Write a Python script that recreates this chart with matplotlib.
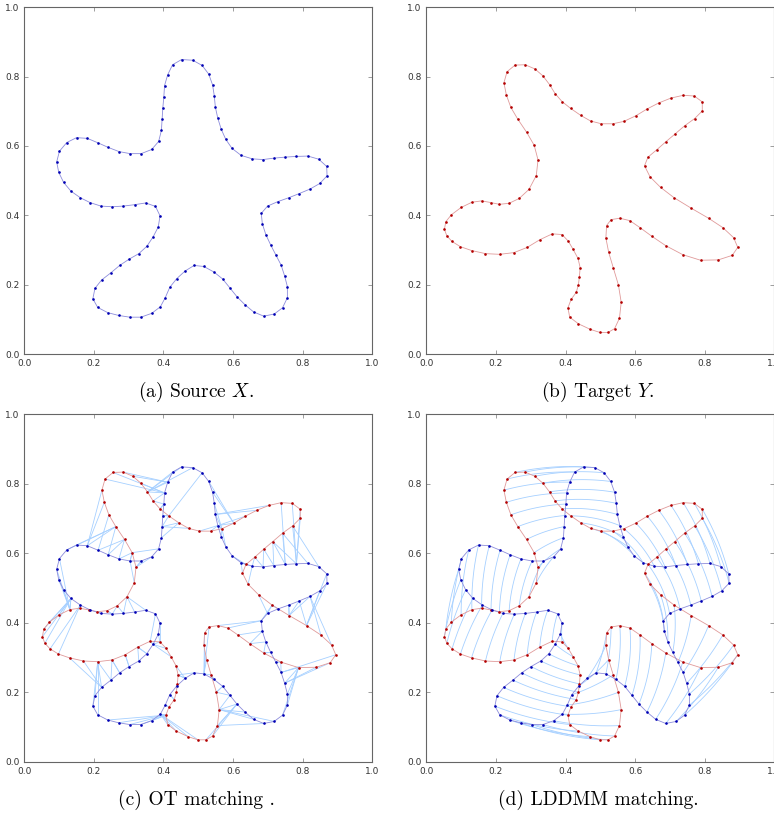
import numpy as np
import matplotlib.pyplot as plt

# source curve X (dots, clockwise from the top lobe)
src_x = [0.452, 0.484, 0.511, 0.530, 0.541, 0.546, 0.549, 0.556, 0.566, 0.579,
         0.597, 0.623, 0.655, 0.686, 0.717, 0.750, 0.782, 0.815, 0.846, 0.869,
         0.870, 0.849, 0.821, 0.790, 0.760, 0.729, 0.699, 0.681, 0.684, 0.694,
         0.708, 0.723, 0.738, 0.748, 0.756, 0.756, 0.742, 0.718, 0.688, 0.659,
         0.634, 0.611, 0.591, 0.570, 0.545, 0.516, 0.488, 0.462, 0.438, 0.418,
         0.405, 0.391, 0.366, 0.335, 0.303, 0.271, 0.240, 0.211, 0.197, 0.203,
         0.222, 0.249, 0.274, 0.301, 0.329, 0.352, 0.370, 0.385, 0.390, 0.377,
         0.349, 0.317, 0.285, 0.253, 0.220, 0.189, 0.161, 0.134, 0.113, 0.099,
         0.093, 0.101, 0.122, 0.150, 0.181, 0.212, 0.241, 0.272, 0.304, 0.336,
         0.366, 0.386, 0.394, 0.396, 0.398, 0.401, 0.403, 0.412, 0.426]
src_y = [0.849, 0.847, 0.832, 0.807, 0.776, 0.744, 0.712, 0.680, 0.648, 0.619,
         0.593, 0.573, 0.563, 0.561, 0.565, 0.568, 0.570, 0.571, 0.562, 0.541,
         0.514, 0.492, 0.476, 0.463, 0.451, 0.440, 0.427, 0.406, 0.376, 0.345,
         0.315, 0.286, 0.257, 0.226, 0.195, 0.163, 0.134, 0.116, 0.110, 0.122,
         0.143, 0.166, 0.191, 0.217, 0.237, 0.253, 0.256, 0.240, 0.218, 0.193,
         0.163, 0.137, 0.118, 0.107, 0.107, 0.112, 0.120, 0.135, 0.160, 0.190,
         0.214, 0.235, 0.256, 0.274, 0.290, 0.311, 0.338, 0.367, 0.399, 0.426,
         0.436, 0.431, 0.427, 0.425, 0.427, 0.437, 0.451, 0.470, 0.495, 0.524,
         0.554, 0.585, 0.610, 0.624, 0.622, 0.609, 0.596, 0.584, 0.578, 0.578,
         0.590, 0.613, 0.645, 0.677, 0.709, 0.742, 0.774, 0.805, 0.834]

# target curve Y (dots, clockwise from the top-left lobe)
tgt_x = [0.255, 0.284, 0.312, 0.335, 0.354, 0.370, 0.390, 0.415, 0.444, 0.472,
         0.503, 0.536, 0.568, 0.602, 0.635, 0.668, 0.703, 0.738, 0.770, 0.793,
         0.793, 0.771, 0.742, 0.714, 0.688, 0.662, 0.637, 0.627, 0.643, 0.673,
         0.712, 0.761, 0.811, 0.852, 0.883, 0.895, 0.879, 0.839, 0.788, 0.737,
         0.688, 0.648, 0.614, 0.585, 0.556, 0.531, 0.518, 0.516, 0.524, 0.537,
         0.552, 0.560, 0.555, 0.541, 0.522, 0.499, 0.471, 0.437, 0.412, 0.407,
         0.416, 0.431, 0.437, 0.440, 0.442, 0.436, 0.422, 0.408, 0.390, 0.362,
         0.326, 0.290, 0.252, 0.211, 0.170, 0.130, 0.098, 0.074, 0.059, 0.052,
         0.056, 0.072, 0.100, 0.131, 0.159, 0.186, 0.210, 0.238, 0.267, 0.295,
         0.316, 0.321, 0.310, 0.288, 0.263, 0.243, 0.230, 0.223, 0.232]
tgt_y = [0.833, 0.834, 0.822, 0.802, 0.777, 0.751, 0.728, 0.708, 0.688, 0.672,
         0.664, 0.664, 0.671, 0.687, 0.707, 0.724, 0.738, 0.746, 0.744, 0.727,
         0.701, 0.679, 0.658, 0.634, 0.612, 0.589, 0.568, 0.543, 0.511, 0.481,
         0.451, 0.421, 0.392, 0.365, 0.336, 0.308, 0.285, 0.272, 0.271, 0.287,
         0.313, 0.340, 0.365, 0.385, 0.392, 0.388, 0.371, 0.335, 0.294, 0.250,
         0.200, 0.150, 0.104, 0.074, 0.063, 0.063, 0.072, 0.088, 0.107, 0.134,
         0.158, 0.179, 0.200, 0.224, 0.250, 0.276, 0.302, 0.326, 0.345, 0.347,
         0.330, 0.308, 0.293, 0.288, 0.290, 0.299, 0.310, 0.325, 0.341, 0.360,
         0.382, 0.402, 0.423, 0.438, 0.442, 0.437, 0.432, 0.435, 0.449, 0.475,
         0.515, 0.560, 0.602, 0.640, 0.677, 0.711, 0.747, 0.782, 0.814]

captions = ["(a) Source $X$.", "(b) Target $Y$.", "(c) OT matching .", "(d) LDDMM matching."]

X = np.column_stack([src_x, src_y])
Y = np.column_stack([tgt_x, tgt_y])

BLUE_DOT = "#0000b4"
BLUE_LINE = "#8c8cdc"
RED_DOT = "#b40000"
RED_LINE = "#e09a9a"
MATCH = "#a6d0ff"

plt.rcParams['mathtext.fontset'] = 'cm'

fig = plt.figure(figsize=(7.74, 8.17), dpi=100)
lefts = [0.0314, 0.5508, 0.0314, 0.5508]
bottoms = [0.5663, 0.5663, 0.0677, 0.0677]
W, H = 0.4496, 0.4250
cap_y = [1 - 392 / 817, 1 - 392 / 817, 1 - 800 / 817, 1 - 800 / 817]


def draw_curve(ax, P, line_c, dot_c):
    xs = np.append(P[:, 0], P[0, 0])
    ys = np.append(P[:, 1], P[0, 1])
    ax.plot(xs, ys, color=line_c, lw=0.6, zorder=3)
    ax.plot(P[:, 0], P[:, 1], 'o', color=dot_c, ms=1.9, mew=0, zorder=4)


axes = []
for k in range(4):
    ax = fig.add_axes([lefts[k], bottoms[k], W, H])
    ax.set_xlim(0, 1)
    ax.set_ylim(0, 1)
    ax.set_xticks([0, 0.2, 0.4, 0.6, 0.8, 1.0])
    ax.set_yticks([0, 0.2, 0.4, 0.6, 0.8, 1.0])
    ax.tick_params(direction='in', top=True, right=True, labelsize=6.5,
                   length=3, width=0.5, colors='#777777', labelcolor='#333333')
    for s in ax.spines.values():
        s.set_color('#666666')
        s.set_linewidth(0.8)
    fig.text(lefts[k] + W / 2 - 0.003, cap_y[k], captions[k], ha='center', va='center',
             fontsize=14, family='cmr10')
    axes.append(ax)

# (a), (b)
draw_curve(axes[0], X, BLUE_LINE, BLUE_DOT)
draw_curve(axes[1], Y, RED_LINE, RED_DOT)

# (c) OT-like matching: each point to its closest point on the other curve
D = np.sqrt(((X[:, None, :] - Y[None, :, :]) ** 2).sum(-1))
ax = axes[2]
for i in range(len(X)):
    j = np.argmin(D[i])
    ax.plot([X[i, 0], Y[j, 0]], [X[i, 1], Y[j, 1]], color=MATCH, lw=0.6, zorder=2)
for j in range(len(Y)):
    i = np.argmin(D[:, j])
    ax.plot([X[i, 0], Y[j, 0]], [X[i, 1], Y[j, 1]], color=MATCH, lw=0.6, zorder=2)
draw_curve(ax, Y, RED_LINE, RED_DOT)
draw_curve(ax, X, BLUE_LINE, BLUE_DOT)

# (d) LDDMM trajectories: gently curved paths from X[i] to Y[i]
ax = axes[3]
c = np.array([0.5, 0.5])
t = np.linspace(0, 1, 30)
bend = 0.5
for i in range(len(X)):
    a = X[i] - c
    b = Y[i] - c
    r0, r1 = np.hypot(*a), np.hypot(*b)
    th0, th1 = np.arctan2(a[1], a[0]), np.arctan2(b[1], b[0])
    dth = (th1 - th0 + np.pi) % (2 * np.pi) - np.pi
    r = r0 + (r1 - r0) * t
    th = th0 + dth * t
    arc_x, arc_y = c[0] + r * np.cos(th), c[1] + r * np.sin(th)
    lin_x = X[i, 0] + (Y[i, 0] - X[i, 0]) * t
    lin_y = X[i, 1] + (Y[i, 1] - X[i, 1]) * t
    ax.plot(bend * arc_x + (1 - bend) * lin_x, bend * arc_y + (1 - bend) * lin_y,
            color=MATCH, lw=0.6, zorder=2)
draw_curve(ax, Y, RED_LINE, RED_DOT)
draw_curve(ax, X, BLUE_LINE, BLUE_DOT)

plt.savefig("out.png", dpi=100)
